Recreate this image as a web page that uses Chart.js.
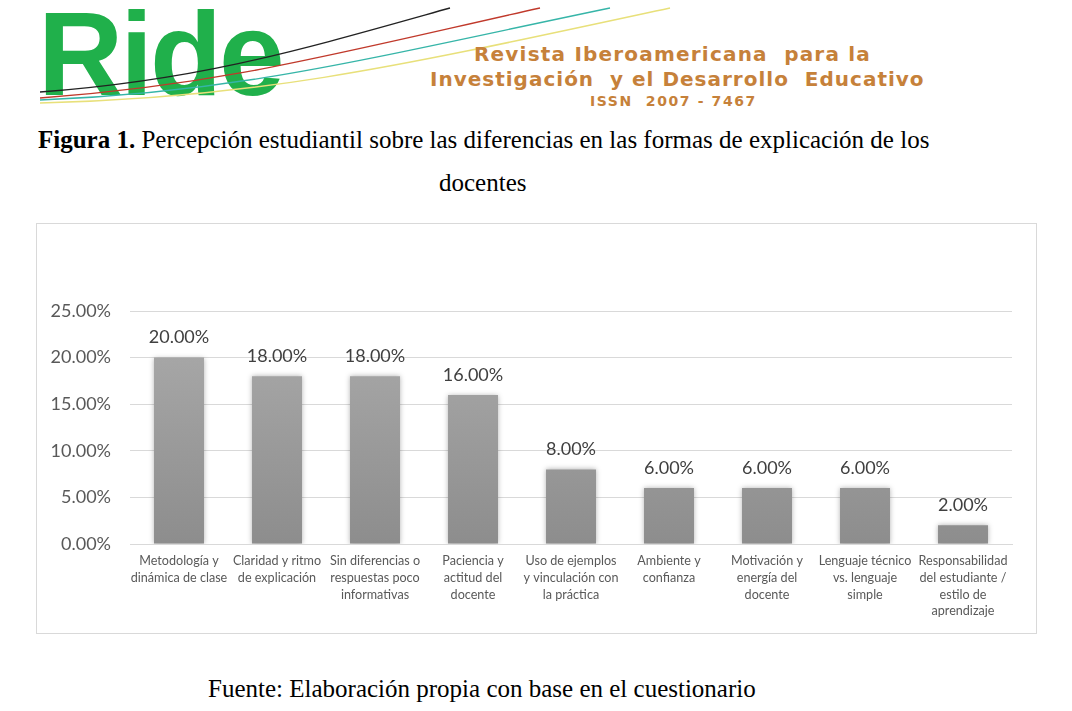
<!DOCTYPE html>
<html>
<head>
<meta charset="utf-8">
<script src="https://cdn.jsdelivr.net/npm/chart.js@4"></script>
<style>
  body { margin: 0; background: #fff; width: 1072px; height: 711px; position: relative; overflow: hidden; }
  .ride { position: absolute; left: 38px; top: -14px; font: bold 118px "Liberation Sans", Arial, sans-serif; color: #20b04b; letter-spacing: -3px; }
  .rev { position: absolute; color: #c6813a; font-family: "DejaVu Sans", sans-serif; font-weight: bold; white-space: nowrap; }
  .cap { position: absolute; font-family: "Liberation Serif", "Times New Roman", serif; font-size: 25px; color: #000; white-space: nowrap; }
  #frame { position: absolute; left: 36px; top: 223px; width: 999px; height: 409px; border: 1px solid #d9d9d9; }
</style>
</head>
<body>
<div class="ride">Ride</div>
<svg width="700" height="110" style="position:absolute;left:0;top:0">
  <path d="M40 92 C 200 80, 300 50, 450 8" stroke="#222" stroke-width="1.3" fill="none"/>
  <path d="M40 98 C 220 85, 330 55, 540 8" stroke="#c0392b" stroke-width="1.3" fill="none"/>
  <path d="M40 100 C 240 92, 360 60, 610 8" stroke="#36b5a8" stroke-width="1.3" fill="none"/>
  <path d="M40 103 C 260 98, 400 66, 670 8" stroke="#e8e07a" stroke-width="1.5" fill="none"/>
</svg>
<div class="rev" style="left:474px;top:42px;font-size:20px;letter-spacing:1.2px">Revista Iberoamericana&nbsp; para la</div>
<div class="rev" style="left:430px;top:67px;font-size:20px;letter-spacing:1px">Investigación&nbsp; y el Desarrollo&nbsp; Educativo</div>
<div class="rev" style="left:590px;top:93px;font-size:14px;letter-spacing:1.6px">ISSN&nbsp; 2007 - 7467</div>
<div class="cap" style="left:38px;top:126px"><b>Figura 1.</b> Percepción estudiantil sobre las diferencias en las formas de explicación de los</div>
<div class="cap" style="left:439px;top:169px">docentes</div>
<div id="frame"><canvas id="chart"></canvas></div>
<div class="cap" style="left:208px;top:675px">Fuente: Elaboración propia con base en el cuestionario</div>
<script>
const categories = [
  ['Metodología y', 'dinámica de clase'],
  ['Claridad y ritmo', 'de explicación'],
  ['Sin diferencias o', 'respuestas poco', 'informativas'],
  ['Paciencia y', 'actitud del', 'docente'],
  ['Uso de ejemplos', 'y vinculación con', 'la práctica'],
  ['Ambiente y', 'confianza'],
  ['Motivación y', 'energía del', 'docente'],
  ['Lenguaje técnico', 'vs. lenguaje', 'simple'],
  ['Responsabilidad', 'del estudiante /', 'estilo de', 'aprendizaje']
];
const percentages = [20, 18, 18, 16, 8, 6, 6, 6, 2];
const yTicks = [0, 5, 10, 15, 20, 25];

const pct = v => Number(v).toFixed(2) + '%';

// draws the value above each bar
const valueLabels = {
  id: 'valueLabels',
  afterDatasetsDraw(chart) {
    const ctx = chart.ctx;
    const meta = chart.getDatasetMeta(0);
    ctx.save();
    ctx.font = '18px Lato, "Open Sans", sans-serif';
    ctx.fillStyle = '#404040';
    ctx.textAlign = 'center';
    ctx.textBaseline = 'bottom';
    meta.data.forEach((bar, i) => {
      ctx.fillText(pct(percentages[i]), bar.x, bar.y - 11);
    });
    ctx.restore();
  }
};

// soft shadow round the bars
const barShadow = {
  id: 'barShadow',
  beforeDatasetDraw(chart) {
    chart.ctx.save();
    chart.ctx.shadowColor = 'rgba(0,0,0,0.3)';
    chart.ctx.shadowBlur = 5;
  },
  afterDatasetDraw(chart) {
    chart.ctx.restore();
  }
};

new Chart(document.getElementById('chart'), {
  type: 'bar',
  data: {
    labels: categories,
    datasets: [{
      data: percentages,
      backgroundColor: function(context) {
        const area = context.chart.chartArea;
        if (!area) return '#9b9b9b';
        const g = context.chart.ctx.createLinearGradient(0, area.top, 0, area.bottom);
        g.addColorStop(0, '#acacac');
        g.addColorStop(1, '#8d8d8d');
        return g;
      },
      barPercentage: 0.51,
      categoryPercentage: 1
    }]
  },
  options: {
    responsive: true,
    maintainAspectRatio: false,
    animation: false,
    layout: { padding: { left: 0, right: 24, top: 87, bottom: 0 } },
    plugins: { legend: { display: false }, tooltip: { enabled: false } },
    scales: {
      x: {
        grid: { display: false },
        border: { color: '#d9d9d9' },
        afterFit: axis => { axis.height = 89; },
        ticks: {
          color: '#595959',
          font: { family: 'Lato, "Open Sans", sans-serif', size: 12.6, lineHeight: 1.32 },
          maxRotation: 0,
          autoSkip: false,
          padding: 1
        }
      },
      y: {
        min: 0,
        max: 25,
        afterBuildTicks: axis => { axis.ticks = yTicks.map(v => ({ value: v })); },
        afterFit: axis => { axis.width = 93; },
        grid: { color: '#d9d9d9', drawTicks: false },
        border: { display: false },
        ticks: {
          color: '#595959',
          font: { family: 'Lato, "Open Sans", sans-serif', size: 18 },
          padding: 19,
          callback: v => pct(v)
        }
      }
    }
  },
  plugins: [barShadow, valueLabels]
});
</script>
</body>
</html>
